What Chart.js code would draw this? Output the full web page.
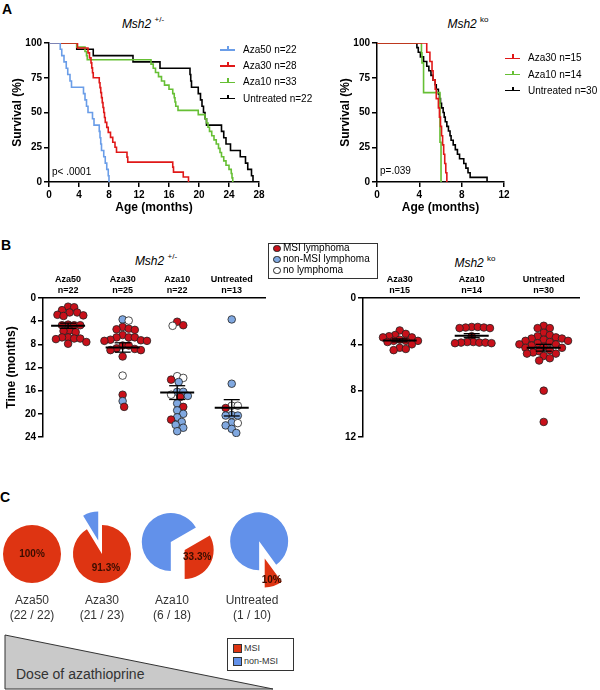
<!DOCTYPE html>
<html>
<head>
<meta charset="utf-8">
<script src="https://cdn.jsdelivr.net/npm/chart.js@4.4.0/dist/chart.umd.min.js"></script>
<style>
html, body { margin: 0; padding: 0; background: #fff; }
#fig { position: relative; width: 600px; height: 690px; overflow: hidden; font-family: "Liberation Sans", Arial, sans-serif; color: #000; }
#fig canvas { position: absolute; }
.t { position: absolute; white-space: nowrap; line-height: 1; }
.c { transform: translate(-50%, -50%); }
.m { transform: translateY(-50%); }
.ttl { font-size: 12px; }
.ttl sup { font-size: 8px; position: relative; top: -1px; }
.panel { font-weight: bold; font-size: 14px; }
</style>
</head>
<body>
<div id="fig">
  <div class="t panel" style="left:2px;top:2px">A</div>
  <div class="t panel" style="left:1px;top:238px">B</div>
  <div class="t panel" style="left:0px;top:490px">C</div>

  <div class="t c ttl" style="left:143px;top:23px"><i>Msh2</i> <sup>+/-</sup></div>
  <div class="t c ttl" style="left:468px;top:23px"><i>Msh2</i> <sup>ko</sup></div>
  <div class="t c ttl" style="left:156px;top:260px"><i>Msh2</i> <sup>+/-</sup></div>
  <div class="t c ttl" style="left:475px;top:262px"><i>Msh2</i> <sup>ko</sup></div>

  <canvas id="survHet" width="270" height="190" style="left:0px;top:30px"></canvas>
  <canvas id="survKo" width="200" height="190" style="left:330px;top:30px"></canvas>
  <div class="t m" style="left:52px;top:172px;font-size:10px">p&lt; .0001</div>
  <div class="t m" style="left:380px;top:171px;font-size:10px">p=.039</div>

  <canvas id="dotHet" width="275" height="190" style="left:0px;top:255px"></canvas>
  <canvas id="dotKo" width="260" height="190" style="left:330px;top:255px"></canvas>
  <div id="legB" style="position:absolute;left:268px;top:243px;width:108px;height:34px;border:1px solid #333;background:#fff"></div>

  <canvas id="pie0" width="100" height="100" style="left:-18px;top:504px"></canvas>
  <canvas id="pie1" width="100" height="100" style="left:52px;top:504px"></canvas>
  <canvas id="pie2" width="100" height="100" style="left:126px;top:495px"></canvas>
  <canvas id="pie3" width="100" height="100" style="left:211px;top:497px"></canvas>

  <svg style="position:absolute;left:0;top:630px" width="290" height="60">
    <polygon points="5,5 5,59 273,59" fill="#c9c9c9" stroke="#333" stroke-width="1"></polygon>
  </svg>
  <div class="t m" style="left:16px;top:674px;font-size:14px;color:#333">Dose of azathioprine</div>
  <div id="legC" style="position:absolute;left:227px;top:638px;width:65px;height:31px;border:1px solid #333;background:#fff"></div>
</div>

<script>
// ---- Panel A: survival (Kaplan-Meier steps), Msh2 +/- ----
const hetAza50T = [0, 1.5, 1.7, 2.0, 2.3, 2.5, 2.8, 3.0, 4.6, 4.8, 5.0, 5.2, 5.8, 6.0, 6.7, 6.8, 6.9, 7.0, 7.3, 7.5, 7.7, 7.9, 8.0];
const hetAza50S = [100, 95.5, 90.9, 86.4, 81.8, 77.3, 72.7, 68.2, 63.6, 59.1, 54.5, 50.0, 45.5, 40.9, 36.4, 31.8, 27.3, 22.7, 18.2, 13.6, 9.1, 4.5, 0];
const hetAza30T = [0, 3.8, 5.2, 5.4, 5.6, 5.7, 5.8, 5.9, 6.7, 6.8, 6.9, 7.0, 7.1, 7.2, 7.3, 7.4, 7.5, 7.7, 7.9, 8.2, 8.5, 8.8, 9.0, 10.4, 10.5, 16.5, 16.6, 17.9, 18.6];
const hetAza30S = [100, 96.4, 92.9, 89.3, 85.7, 82.1, 78.6, 75.0, 71.4, 67.9, 64.3, 60.7, 57.1, 53.6, 50.0, 46.4, 42.9, 39.3, 35.7, 32.1, 28.6, 25.0, 21.4, 17.9, 14.3, 10.7, 7.1, 3.6, 0];
const hetAza10T = [0, 3.7, 4.8, 5.0, 5.1, 13.6, 13.9, 14.2, 14.6, 15.0, 15.4, 16.0, 16.5, 16.7, 16.8, 16.9, 17.2, 19.9, 20.8, 21.0, 21.2, 21.4, 21.7, 22.0, 22.3, 22.6, 22.8, 23.0, 23.3, 23.6, 24.0, 24.3, 24.4, 24.5];
const hetAza10S = [100, 97.0, 93.9, 90.9, 87.9, 84.8, 81.8, 78.8, 75.8, 72.7, 69.7, 66.7, 63.6, 60.6, 57.6, 54.5, 51.5, 48.5, 45.5, 42.4, 39.4, 36.4, 33.3, 30.3, 27.3, 24.2, 21.2, 18.2, 15.2, 12.1, 9.1, 6.1, 3.0, 0];
const hetUntT = [0, 3.7, 5.9, 11.2, 14.8, 18.8, 18.9, 19.0, 19.9, 20.2, 20.4, 20.6, 20.8, 21.0, 23.0, 23.3, 23.6, 24.2, 25.5, 26.2, 26.5, 27.0, 27.2];
const hetUntS = [100, 95.5, 90.9, 86.4, 81.8, 77.3, 72.7, 68.2, 63.6, 59.1, 54.5, 50.0, 45.5, 40.9, 36.4, 31.8, 27.3, 22.7, 18.2, 13.6, 9.1, 4.5, 0];

// ---- Panel A: survival, Msh2 ko ----
const koAza30T = [0, 4.7, 5.0, 5.2, 5.3, 5.5, 5.6, 5.8, 5.9, 6.0, 6.1, 6.2, 6.3, 6.4, 6.5, 6.6];
const koAza30S = [100, 93.3, 86.7, 80.0, 73.3, 66.7, 60.0, 53.3, 46.7, 40.0, 33.3, 26.7, 20.0, 13.3, 6.7, 0];
const koAza10T = [0, 4.2, 4.25, 4.4, 5.95, 6.05];
const koAza10S = [100, 92.9, 85.7, 64.3, 28.6, 0];
const koUntT = [0, 3.77, 3.9, 4.1, 4.4, 4.7, 4.9, 5.1, 5.3, 5.5, 5.6, 5.8, 5.9, 6.0, 6.1, 6.25, 6.35, 6.45, 6.6, 6.75, 6.9, 7.0, 7.2, 7.4, 7.6, 7.8, 8.2, 8.4, 8.6, 8.8, 10.4];
const koUntS = [100, 96.7, 93.3, 90.0, 86.7, 83.3, 80.0, 76.7, 73.3, 70.0, 66.7, 63.3, 60.0, 56.7, 53.3, 50.0, 46.7, 43.3, 40.0, 36.7, 33.3, 30.0, 26.7, 23.3, 20.0, 16.7, 13.3, 10.0, 6.7, 3.3, 0];

// ---- Panel B: time to death (months) and lymphoma type (M = MSI, N = non-MSI, O = none) ----
const hetGroups = ['Aza50', 'Aza30', 'Aza10', 'Untreated'];
const hetAza50Time = [1.5, 1.6, 2.1, 2.5, 2.5, 2.9, 3.0, 3.1, 4.6, 4.7, 4.7, 4.7, 5.6, 5.7, 5.9, 6.8, 6.8, 7.0, 7.0, 7.1, 7.6, 7.9];
const hetAza50Type = ['M','M','M','M','M','M','M','M','M','M','M','M','M','M','M','M','M','M','M','M','M','M'];
const hetAza30Time = [3.7, 3.9, 5.0, 5.3, 5.4, 5.5, 6.4, 6.8, 6.8, 6.8, 7.2, 7.3, 7.4, 7.4, 8.2, 8.2, 8.7, 8.8, 9.0, 9.0, 10.1, 13.4, 16.7, 17.8, 18.8];
const hetAza30Type = ['N','O','M','M','M','M','M','M','M','M','M','M','M','M','M','M','M','M','M','M','M','O','M','N','M'];
const hetAza10Time = [4.1, 4.7, 4.8, 13.5, 13.8, 14.1, 14.5, 16.2, 16.2, 16.7, 16.9, 17.1, 18.2, 18.8, 19.4, 20.0, 20.6, 21.0, 21.4, 21.9, 22.4, 23.0];
const hetAza10Type = ['M','M','O','O','O','M','N','N','N','O','N','M','N','M','N','N','N','M','N','N','N','N'];
const hetUntTime = [3.7, 14.8, 18.6, 18.6, 19.0, 20.2, 20.3, 20.3, 21.5, 21.6, 22.0, 22.6, 23.3];
const hetUntType = ['N','N','O','O','M','N','N','N','N','O','N','N','N'];

const koGroups = ['Aza30', 'Aza10', 'Untreated'];
const koAza30Time = [2.8, 3.1, 3.2, 3.3, 3.4, 3.4, 3.6, 3.7, 3.7, 3.7, 3.8, 4.0, 4.3, 4.4, 4.5];
const koAza10Time = [2.5, 2.5, 2.55, 2.55, 2.6, 2.6, 3.3, 3.8, 3.8, 3.85, 3.85, 3.85, 3.9, 3.9];
const koUntTime = [2.4, 2.6, 2.6, 3.0, 3.2, 3.3, 3.4, 3.5, 3.5, 3.6, 3.7, 3.7, 3.8, 3.9, 4.0, 4.0, 4.1, 4.2, 4.3, 4.3, 4.5, 4.6, 4.7, 4.8, 4.8, 5.0, 5.2, 5.4, 8.0, 10.7];

// ---- Panel C: MSI lymphomas out of all lymphomas ----
const pieGroups = ['Aza50', 'Aza30', 'Aza10', 'Untreated'];
const pieMsi = [22, 21, 6, 1];
const pieTotal = [22, 23, 18, 10];

// styles
const FONT = '"Liberation Sans", Arial, sans-serif';
const STATUS_COLOR = {M: '#c8101a', N: '#80a8e0', O: '#ffffff'};
const PIE_RED = '#de3412';
const PIE_BLUE = '#6291ea';
const pieRotation = [0, 0, 60, 144];
const pieExplode = [[0, 0], [0, 14], [10, 6], [12, 6]];

Chart.defaults.font.family = FONT;
Chart.defaults.color = '#000';
Chart.defaults.animation = false;

const tickFont = {size: 10, weight: 'bold'};
const gridStyle = {drawOnChartArea: false, color: '#000', lineWidth: 1.5, tickLength: 5};
const borderStyle = {color: '#000', width: 1.5};

const toXY = (t, s) => t.map((v, i) => ({x: v, y: s[i]}));

function survSet(label, color, t, s) {
    return {label: label, data: toXY(t, s), borderColor: color, backgroundColor: color,
            borderWidth: 1.6, stepped: true, pointRadius: 0, fill: false};
}

function survChart(id, sets, xMax, yW, padR, titlePad) {
    return new Chart(document.getElementById(id), {
        type: 'line',
        data: {datasets: sets},
        options: {
            responsive: false,
            events: [],
            layout: {padding: {top: 13, right: padR, bottom: 0, left: 0}},
            plugins: {legend: {display: false}, tooltip: {enabled: false}},
            scales: {
                x: {
                    type: 'linear', min: 0, max: xMax,
                    ticks: {stepSize: 4, font: tickFont, color: '#000', padding: 2},
                    grid: gridStyle, border: borderStyle,
                    title: {display: true, text: 'Age (months)', color: '#000',
                            font: {size: 12, weight: 'bold'}, padding: {top: 0, bottom: 5}},
                    afterFit: s => { s.height = 38; }
                },
                y: {
                    min: 0, max: 100,
                    ticks: {stepSize: 25, font: tickFont, color: '#000', padding: 2},
                    grid: gridStyle, border: borderStyle,
                    title: {display: true, text: 'Survival (%)', color: '#000',
                            font: {size: 12, weight: 'bold'}, padding: {top: titlePad, bottom: 0}},
                    afterFit: s => { s.width = yW; }
                }
            }
        }
    });
}

function htmlLegend(chart, left, top, step) {
    const fig = document.getElementById('fig');
    chart.data.datasets.forEach((ds, i) => {
        const y = top + i * step;
        const line = document.createElement('div');
        line.style.cssText = `position:absolute;left:${left}px;top:${y - 0.75}px;width:15px;height:1.5px;background:${ds.borderColor}`;
        const tick = document.createElement('div');
        tick.style.cssText = `position:absolute;left:${left + 7}px;top:${y - 4}px;width:1.5px;height:4px;background:${ds.borderColor}`;
        const txt = document.createElement('div');
        txt.className = 't m';
        txt.style.cssText = `left:${left + 23}px;top:${y}px;font-size:10px`;
        txt.textContent = ds.label;
        fig.append(line, tick, txt);
    });
}

const survHet = survChart('survHet', [
    survSet('Aza50 n=22', '#6a9de8', hetAza50T, hetAza50S),
    survSet('Aza30 n=28', '#e01818', hetAza30T, hetAza30S),
    survSet('Aza10 n=33', '#66bf34', hetAza10T, hetAza10S),
    survSet('Untreated n=22', '#000000', hetUntT, hetUntS)
], 28, 49, 11, 10);
htmlLegend(survHet, 220, 50, 16.2);

const survKo = survChart('survKo', [
    survSet('Aza30 n=15', '#e01818', koAza30T, koAza30S),
    survSet('Aza10 n=14', '#66bf34', koAza10T, koAza10S),
    survSet('Untreated n=30', '#000000', koUntT, koUntS)
], 12, 47, 26, 8);
htmlLegend(survKo, 505, 58.3, 16.2);

// ---- Panel B: dot plots with mean +/- SEM ----
const meanSemPlugin = {
    id: 'meanSem',
    afterDatasetsDraw(chart) {
        const {ctx} = chart;
        const xs = chart.scales.x, ys = chart.scales.y;
        const seg = (a, b, c, d) => { ctx.beginPath(); ctx.moveTo(a, b); ctx.lineTo(c, d); ctx.stroke(); };
        ctx.save();
        ctx.strokeStyle = '#000';
        chart.data.datasets.forEach((ds, gi) => {
            const v = ds.data.map(p => p.y);
            const n = v.length;
            const m = v.reduce((a, b) => a + b, 0) / n;
            const sd = Math.sqrt(v.reduce((a, b) => a + (b - m) * (b - m), 0) / (n - 1));
            const se = sd / Math.sqrt(n);
            const cx = xs.getPixelForValue(gi);
            const my = ys.getPixelForValue(m);
            const y1 = ys.getPixelForValue(m - se), y2 = ys.getPixelForValue(m + se);
            ctx.lineWidth = 2;
            seg(cx - 17, my, cx + 17, my);
            ctx.lineWidth = 1.3;
            seg(cx, y1, cx, y2);
            seg(cx - 8, y1, cx + 8, y1);
            seg(cx - 8, y2, cx + 8, y2);
        });
        ctx.restore();
    }
};

function swarmOffsets(yPix, r) {
    const d2 = (2 * r) * (2 * r) * 0.62;
    const order = yPix.map((y, i) => i).sort((a, b) => yPix[a] - yPix[b]);
    const placed = [];
    const out = [];
    order.forEach(i => {
        for (let k = 0; k < 300; k++) {
            const dx = (k % 2 ? 1 : -1) * Math.ceil(k / 2) * r * 0.4;
            const ok = placed.every(p => (p.x - dx) * (p.x - dx) + (p.y - yPix[i]) * (p.y - yPix[i]) >= d2);
            if (ok) { placed.push({x: dx, y: yPix[i]}); out[i] = dx; break; }
        }
    });
    return out;
}

function applySwarm(chart, r) {
    const xs = chart.scales.x, ys = chart.scales.y;
    const ppu = xs.getPixelForValue(1) - xs.getPixelForValue(0);
    chart.data.datasets.forEach((ds, gi) => {
        const off = swarmOffsets(ds.data.map(p => ys.getPixelForValue(p.y)), r);
        ds.data = ds.data.map((p, i) => ({x: gi + off[i] / ppu, y: p.y}));
    });
    chart.update();
}

function dotChart(id, groups, times, types, yMax, xMin, xMax, yW, pad, showTitle) {
    const datasets = times.map((arr, gi) => ({
        data: arr.map(v => ({x: gi, y: v})),
        pointBackgroundColor: types[gi].map(c => STATUS_COLOR[c]),
        pointBorderColor: '#222',
        pointBorderWidth: 0.8,
        pointRadius: 3.8,
        showLine: false
    }));
    const chart = new Chart(document.getElementById(id), {
        type: 'scatter',
        data: {datasets: datasets},
        options: {
            responsive: false,
            events: [],
            layout: {padding: pad},
            plugins: {legend: {display: false}, tooltip: {enabled: false}},
            scales: {
                x: {
                    type: 'linear', position: 'top', min: xMin, max: xMax,
                    afterBuildTicks: s => { s.ticks = groups.map((g, i) => ({value: i})); },
                    ticks: {callback: v => [groups[v], 'n=' + times[v].length],
                            font: {size: 9, weight: 'bold'}, color: '#000', padding: 2,
                            maxRotation: 0, autoSkip: false},
                    grid: {display: false, drawTicks: false, tickLength: 0},
                    border: borderStyle,
                    afterFit: s => { s.height = 43; }
                },
                y: {
                    reverse: true, min: 0, max: yMax,
                    ticks: {stepSize: 4, font: tickFont, color: '#000', padding: 2},
                    grid: gridStyle, border: borderStyle,
                    title: {display: showTitle, text: 'Time (months)', color: '#000',
                            font: {size: 12, weight: 'bold'}, padding: {top: 4, bottom: 0}},
                    afterFit: s => { s.width = yW; }
                }
            }
        },
        plugins: [meanSemPlugin]
    });
    applySwarm(chart, 3.8);
    return chart;
}

dotChart('dotHet', hetGroups,
    [hetAza50Time, hetAza30Time, hetAza10Time, hetUntTime],
    [hetAza50Type, hetAza30Type, hetAza10Type, hetUntType],
    24, -0.46, 3.61, 43, {top: 0, right: 10, bottom: 5, left: 0}, true);

dotChart('dotKo', koGroups,
    [koAza30Time, koAza10Time, koUntTime],
    [koAza30Time.map(() => 'M'), koAza10Time.map(() => 'M'), koUntTime.map(() => 'M')],
    12, -0.51, 2.49, 33, {top: 0, right: 11, bottom: 8, left: 0}, false);

// legend for panel B
(function () {
    const box = document.getElementById('legB');
    const items = [['M', 'MSI lymphoma'], ['N', 'non-MSI lymphoma'], ['O', 'no lymphoma']];
    items.forEach((it, i) => {
        const y = 3.5 + i * 11;
        const dot = document.createElement('div');
        dot.style.cssText = `position:absolute;left:4px;top:${y - 3}px;width:5.5px;height:5.5px;border-radius:50%;border:0.8px solid #222;background:${STATUS_COLOR[it[0]]}`;
        const txt = document.createElement('div');
        txt.className = 't m';
        txt.style.cssText = `left:14px;top:${y + 0.3}px;font-size:10px`;
        txt.textContent = it[1];
        box.append(dot, txt);
    });
})();

// ---- Panel C: exploded pies ----
const explodePlugin = {
    id: 'explode',
    beforeDatasetDraw(chart, args) {
        const ctx = chart.ctx;
        const ds = chart.data.datasets[args.index];
        const arcs = args.meta.data;
        arcs.forEach((arc, i) => {
            if (!ds.data[i]) return;
            const d = ds.explode[i] || 0;
            const mid = (arc.startAngle + arc.endAngle) / 2;
            ctx.save();
            ctx.translate(Math.cos(mid) * d, Math.sin(mid) * d);
            arc.draw(ctx);
            ctx.restore();
        });
        const a = arcs[0];
        const sweep = a.endAngle - a.startAngle;
        const full = sweep >= 2 * Math.PI - 1e-6;
        let px = a.x, py = a.y;
        if (!full) {
            const mid = (a.startAngle + a.endAngle) / 2;
            const rr = ds.explode[0] + a.outerRadius * (sweep < 1 ? 0.78 : 0.5);
            px += Math.cos(mid) * rr;
            py += Math.sin(mid) * rr;
        }
        const pct = ds.data[0] / (ds.data[0] + ds.data[1]) * 100;
        ctx.save();
        ctx.fillStyle = '#3b0d00';
        ctx.font = 'bold 10px ' + FONT;
        ctx.textAlign = 'center';
        ctx.textBaseline = 'middle';
        ctx.fillText(+pct.toFixed(1) + '%', px, py);
        ctx.restore();
        return false;
    }
};

const pieLabelX = [32, 102, 172, 252];
pieGroups.forEach((g, i) => {
    new Chart(document.getElementById('pie' + i), {
        type: 'pie',
        data: {
            labels: ['MSI', 'non-MSI'],
            datasets: [{
                data: [pieMsi[i], pieTotal[i] - pieMsi[i]],
                backgroundColor: [PIE_RED, PIE_BLUE],
                borderWidth: 0,
                explode: pieExplode[i]
            }]
        },
        options: {
            responsive: false,
            events: [],
            rotation: pieRotation[i],
            radius: 29,
            plugins: {legend: {display: false}, tooltip: {enabled: false}}
        },
        plugins: [explodePlugin]
    });
    const fig = document.getElementById('fig');
    const l1 = document.createElement('div');
    l1.className = 't c';
    l1.style.cssText = `left:${pieLabelX[i]}px;top:600px;font-size:12px;color:#333`;
    l1.textContent = g;
    const l2 = document.createElement('div');
    l2.className = 't c';
    l2.style.cssText = `left:${pieLabelX[i]}px;top:615px;font-size:12px;color:#333`;
    l2.textContent = `(${pieMsi[i]} / ${pieTotal[i]})`;
    fig.append(l1, l2);
});

// legend for panel C
(function () {
    const box = document.getElementById('legC');
    [[PIE_RED, 'MSI'], [PIE_BLUE, 'non-MSI']].forEach((it, i) => {
        const y = 9 + i * 13;
        const sq = document.createElement('div');
        sq.style.cssText = `position:absolute;left:5px;top:${y - 4}px;width:7px;height:7px;border:0.8px solid #333;background:${it[0]}`;
        const txt = document.createElement('div');
        txt.className = 't m';
        txt.style.cssText = `left:16px;top:${y}px;font-size:9px;color:#333`;
        txt.textContent = it[1];
        box.append(sq, txt);
    });
})();
</script>
</body>
</html>
